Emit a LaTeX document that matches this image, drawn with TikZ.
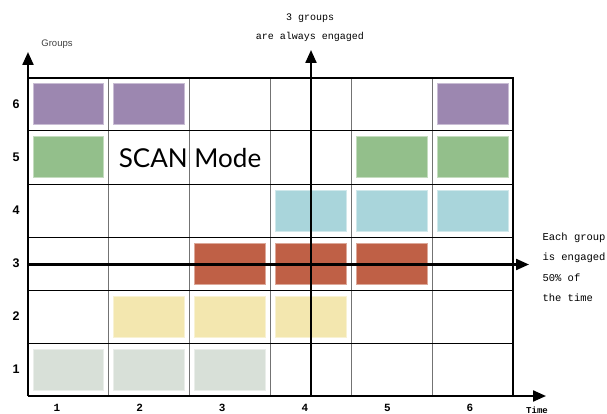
\documentclass[tikz,border=0pt]{standalone}
\usepackage{fontspec}
\setmainfont{Liberation Serif}
\setsansfont{Liberation Sans}
\setmonofont{Liberation Mono}
\newfontfamily\scanfont{Lato}
\usetikzlibrary{arrows.meta}
\definecolor{cpurple}{HTML}{9C87B0}
\definecolor{cgreen}{HTML}{93BF8B}
\definecolor{ccyan}{HTML}{A9D5DB}
\definecolor{cred}{HTML}{BF6046}
\definecolor{cyellow}{HTML}{F3E7AF}
\definecolor{cgray}{HTML}{D8E0D8}
\begin{document}
\begin{tikzpicture}[x=1pt,y=-1pt,
  gridv/.style={draw=black!55,line width=1.1pt},
  gridh/.style={draw=black,line width=1pt},
  axis/.style={draw=black,line width=2.2pt,-{Triangle[length=13pt,width=11pt]}},
  rowlab/.style={font=\sffamily\bfseries\fontsize{12.5}{13}\selectfont},
  collab/.style={font=\ttfamily\bfseries\fontsize{11}{12}\selectfont},
  note/.style={font=\ttfamily\fontsize{10.5}{20.5}\selectfont,align=left},
]
\useasboundingbox (0,0) rectangle (607,414);
\def\cw{80.833}
\def\rh{53}
\newcommand{\cellfill}[3]{%
  \fill[#3,draw=#3!55!white,line width=1pt]
    ({28+(#1-1)*\cw+5},{396-#2*\rh+6}) rectangle ({28+#1*\cw-5},{396-(#2-1)*\rh-6});}
\cellfill{1}{6}{cpurple}\cellfill{2}{6}{cpurple}\cellfill{6}{6}{cpurple}
\cellfill{1}{5}{cgreen}\cellfill{5}{5}{cgreen}\cellfill{6}{5}{cgreen}
\cellfill{4}{4}{ccyan}\cellfill{5}{4}{ccyan}\cellfill{6}{4}{ccyan}
\cellfill{3}{3}{cred}\cellfill{4}{3}{cred}\cellfill{5}{3}{cred}
\cellfill{2}{2}{cyellow}\cellfill{3}{2}{cyellow}\cellfill{4}{2}{cyellow}
\cellfill{1}{1}{cgray}\cellfill{2}{1}{cgray}\cellfill{3}{1}{cgray}
% grid
\foreach \i in {1,...,5} \draw[gridv] ({28+\i*\cw},78) -- ({28+\i*\cw},396);
\foreach \j in {1,...,5} \draw[gridh] (28,{78+\j*\rh}) -- (513,{78+\j*\rh});
\draw[line width=1.5pt] (28,78) -- (513,78) -- (513,396);
% axes
\coordinate (o) at (28,396);
\coordinate (ytip) at (28,52);
\coordinate (xtip) at (546,396);
\draw[axis] (o) -- (ytip);
\draw[axis] (o) -- (xtip);
% central arrows
\coordinate (vs) at (311,396);
\coordinate (vt) at (311,50);
\coordinate (hs) at (28,264.5);
\coordinate (ht) at (529,264.5);
\draw[axis] (vs) -- (vt);
\draw[axis] (hs) -- (ht);
% labels
\foreach \j in {1,...,6} \node[rowlab] (r\j) at (16,{396-(\j-0.5)*\rh}) {\j};
\foreach \i in {1,...,6} \node[collab] (c\i) at ({57+(\i-1)*82.6},408) {\i};
\node[collab,font=\ttfamily\bfseries\fontsize{9}{10}\selectfont] (time) at (537,410) {Time};
\node[font=\sffamily\fontsize{9.5}{10}\selectfont,text=black!75] (groups) at (57,44) {Groups};
\node[note,align=center,font=\ttfamily\fontsize{10}{19}\selectfont] (top) at (310,28) {3 groups\\are always engaged};
\node[note,anchor=west] (right) at (539,267) {Each group\\is engaged\\50\% of\\the time};
\node[font=\scanfont\fontsize{26}{28}\selectfont] (scan) at (190,158) {SCAN Mode};
\end{tikzpicture}
\end{document}
